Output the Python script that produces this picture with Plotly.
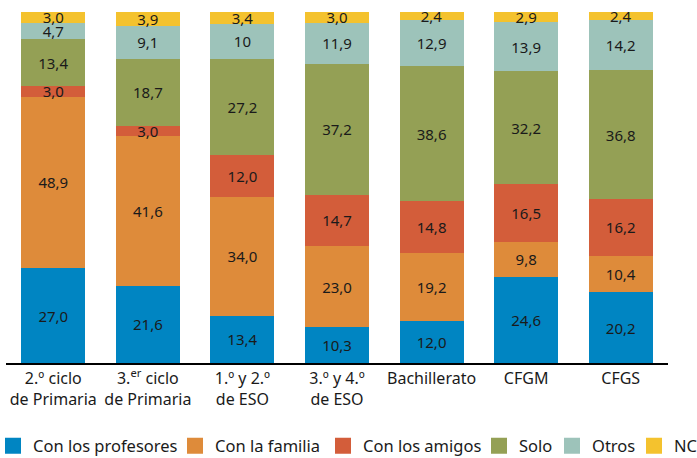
import plotly.graph_objects as go

categories = ["2.º ciclo<br>de Primaria", "3.<sup>er</sup> ciclo<br>de Primaria", "1.º y 2.º<br>de ESO",
              "3.º y 4.º<br>de ESO", "Bachillerato", "CFGM", "CFGS"]
series_names = ["Con los profesores", "Con la familia", "Con los amigos", "Solo", "Otros", "NC"]
profesores = [27.0, 21.6, 13.4, 10.3, 12.0, 24.6, 20.2]
familia = [48.9, 41.6, 34.0, 23.0, 19.2, 9.8, 10.4]
amigos = [3.0, 3.0, 12.0, 14.7, 14.8, 16.5, 16.2]
solo = [13.4, 18.7, 27.2, 37.2, 38.6, 32.2, 36.8]
otros = [4.7, 9.1, 10, 11.9, 12.9, 13.9, 14.2]
nc = [3.0, 3.9, 3.4, 3.0, 2.4, 2.9, 2.4]
colors = ["#0085C2", "#DE8B3A", "#D35D3A", "#94A055", "#9DC3BA", "#F4C22E"]

series = [profesores, familia, amigos, solo, otros, nc]

# legend entry left edges (px in the 697 wide page)
legend_left_px = [10, 192, 340, 496, 569, 651]

def fmt(v):
    if isinstance(v, int):
        return str(v)
    return f"{v:.1f}".replace(".", ",")

W, H = 697, 458
ML, MR, MT, MB = 6, 29, 12, 95
PW = W - ML - MR
FONT = "Noto Sans"
fig = go.Figure()
legend_layouts = {}
for i, (name, vals, col) in enumerate(zip(series_names, series, colors)):
    lname = "legend" if i == 0 else f"legend{i+1}"
    fig.add_trace(go.Bar(
        x=categories, y=vals, name=name, marker=dict(color=col, line=dict(width=0)),
        text=[fmt(v) for v in vals], textposition="inside", insidetextanchor="middle",
        textangle=0, constraintext="none",
        textfont=dict(family=FONT, size=15, color="#1a1a1a"),
        showlegend=False, hoverinfo="skip"))
    fig.add_trace(go.Scatter(
        x=[None], y=[None], mode="markers", name=name, legend=lname,
        marker=dict(symbol="square", size=17, color=col, line=dict(width=0)), showlegend=True))
    target = legend_left_px[i] - 3          # desired square left edge
    lx = max(target - 14, 0)
    indent = min(target - 14, 0)
    legend_layouts[lname] = dict(
        orientation="h", xref="container", yref="container",
        x=lx / W, xanchor="left",
        y=(H - 446) / H, yanchor="middle",
        itemwidth=30, indentation=indent, bgcolor="rgba(0,0,0,0)", borderwidth=0,
        font=dict(family=FONT, size=16.5, color="#1a1a1a"))

fig.update_layout(
    barmode="stack", barnorm="percent", bargap=0.323,
    width=W, height=H,
    margin=dict(l=ML, r=MR, t=MT, b=MB),
    paper_bgcolor="white", plot_bgcolor="white",
    font=dict(family=FONT, size=16, color="#1a1a1a"),
    xaxis=dict(showline=True, linecolor="black", linewidth=2, ticks="", showgrid=False,
               automargin=False,
               tickfont=dict(family=FONT, size=16, color="#1a1a1a")),
    yaxis=dict(visible=False, range=[0, 100], showgrid=False, automargin=False),
    **legend_layouts,
)
fig.write_html("out.html", config={"displayModeBar": False},
               post_script="document.body.style.margin='0';")
